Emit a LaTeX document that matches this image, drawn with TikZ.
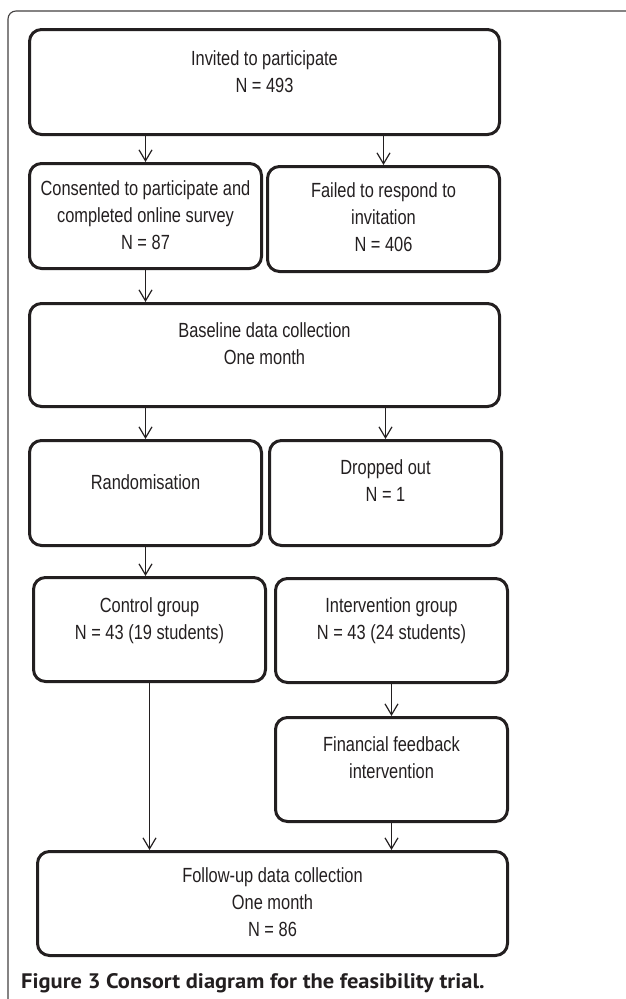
\documentclass[tikz,border=0pt]{standalone}
\usepackage{fontspec}
\setmainfont{Liberation Sans}[FakeStretch=0.8]
\newfontfamily\capfont{PT Sans}[FakeStretch=1.07]
\usetikzlibrary{arrows.meta}
\definecolor{ink}{HTML}{231F20}
\newcommand\mylines[1]{\begin{tabular}[t]{@{}c@{}}#1\end{tabular}}
\begin{document}
\begin{tikzpicture}[x=1pt,y=-1pt,
  box/.style={draw=ink, line width=3pt, rounded corners=12pt, inner sep=0pt},
  txt/.style={anchor=base, inner sep=0pt, text=ink, font=\fontsize{20.5}{27}\selectfont},
  arr/.style={draw=ink, line width=1.2pt, -{Straight Barb[length=11pt,width=13pt]}},
  frame/.style={draw=ink!85, line width=1.1pt, rounded corners=8pt}]
\useasboundingbox (0,0) rectangle (625,999);
% outer frame
\coordinate (fr1) at (640,11);
\coordinate (fr2) at (8,11);
\coordinate (fr3) at (8,1010);
\draw[frame] (fr1) -- (fr2) -- (fr3);
% boxes (outer edges measured; path = outer - 3)
\node[box, minimum width=470pt, minimum height=105pt] (b1) at (264.5,82) {};
\node[box, minimum width=232pt, minimum height=105pt] (b2l) at (145.5,216) {};
\node[box, minimum width=232pt, minimum height=105pt] (b2r) at (383.5,219) {};
\node[box, minimum width=470pt, minimum height=103pt] (b3) at (264.5,355) {};
\node[box, minimum width=232pt, minimum height=105pt] (b4l) at (145.5,493) {};
\node[box, minimum width=232pt, minimum height=105pt] (b4r) at (385.5,493) {};
\node[box, minimum width=232pt, minimum height=104pt] (b5l) at (149.5,629.5) {};
\node[box, minimum width=232pt, minimum height=104pt] (b5r) at (391.5,630.5) {};
\node[box, minimum width=232pt, minimum height=104pt] (b6) at (391.5,769.5) {};
\node[box, minimum width=470pt, minimum height=104pt] (b7) at (272.5,903.5) {};
% texts
\node[txt] (t1) at (264.5,65) {\mylines{Invited to participate\\N = 493}};
\node[txt] (t2l) at (145.5,195) {\mylines{Consented to participate and\\completed online survey\\N = 87}};
\node[txt] (t2r) at (383.5,197) {\mylines{Failed to respond to\\invitation\\N = 406}};
\node[txt] (t3) at (264.5,337) {\mylines{Baseline data collection\\One month}};
\node[txt] (t4l) at (145.5,489) {\mylines{Randomisation}};
\node[txt] (t4r) at (385.5,474) {\mylines{Dropped out\\N = 1}};
\node[txt] (t5l) at (149.5,612) {\mylines{Control group\\N = 43 (19 students)}};
\node[txt] (t5r) at (391.5,612) {\mylines{Intervention group\\N = 43 (24 students)}};
\node[txt] (t6) at (391.5,751) {\mylines{Financial feedback\\intervention}};
\node[txt] (t7) at (272.5,882) {\mylines{Follow-up data collection\\One month\\N = 86}};
% connectors
\draw[arr] (b2l.north |- b1.south) -- (b2l.north);
\draw[arr] (b2r.north |- b1.south) -- (b2r.north);
\draw[arr] (b2l.south) -- (b2l.south |- b3.north);
\draw[arr] (b4l.north |- b3.south) -- (b4l.north);
\draw[arr] (b4r.north |- b3.south) -- (b4r.north);
\draw[arr] (b4l.south) -- (b4l.south |- b5l.north);
\draw[arr] (b5r.south) -- (b6.north);
\draw[arr] (b5l.south) -- (b5l.south |- b7.north);
\draw[arr] (b6.south) -- (b6.south |- b7.north);
% caption
\node[anchor=base west, inner sep=0pt, text=ink, font=\capfont\bfseries\fontsize{21}{24}\selectfont] (cap) at (21,988) {Figure 3 Consort diagram for the feasibility trial.};
\end{tikzpicture}
\end{document}
